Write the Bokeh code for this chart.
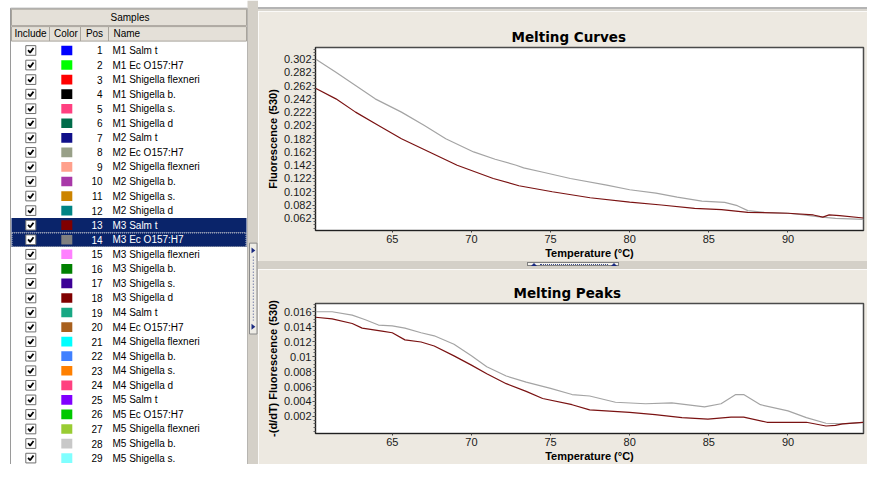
from bokeh.plotting import figure
from bokeh.layouts import row, column
from bokeh.models import Range1d, FixedTicker, ColumnDataSource, Div
from bokeh.core.properties import value
from bokeh.embed import file_html
from bokeh.resources import INLINE

# ---------------- data ----------------
sample_pos = list(range(1, 30))
sample_names = [
    "M1 Salm t", "M1 Ec O157:H7", "M1 Shigella flexneri", "M1 Shigella b.", "M1 Shigella s.", "M1 Shigella d",
    "M2 Salm t", "M2 Ec O157:H7", "M2 Shigella flexneri", "M2 Shigella b.", "M2 Shigella s.", "M2 Shigella d",
    "M3 Salm t", "M3 Ec O157:H7", "M3 Shigella flexneri", "M3 Shigella b.", "M3 Shigella s.", "M3 Shigella d",
    "M4 Salm t", "M4 Ec O157:H7", "M4 Shigella flexneri", "M4 Shigella b.", "M4 Shigella s.", "M4 Shigella d",
    "M5 Salm t", "M5 Ec O157:H7", "M5 Shigella flexneri", "M5 Shigella b.", "M5 Shigella s.",
]
sample_colors = [
    "#0000FF", "#00FF00", "#FF0000", "#000000", "#FF4080", "#006C4A",
    "#10108A", "#98A088", "#FFA08C", "#A838A8", "#CC8400", "#008484",
    "#800000", "#808080", "#FF80FF", "#008000", "#3C0096", "#800000",
    "#18A884", "#A8601E", "#00FFFF", "#4080FF", "#FF8000", "#FF4080",
    "#8000FF", "#00C800", "#99CC33", "#C8C8C8", "#80FFFF",
]
selected_pos = [13, 14]
column_headers = ["Include", "Color", "Pos", "Name"]

# Melting curves (sample 14 grey, sample 13 dark red)
curve_temp_s14 = [60.15, 61.44, 62.68, 63.92, 65.58, 67.03, 68.38, 70.14, 71.5, 72.83, 73.3, 74.6, 76.25,
                  78.55, 80.0, 81.66, 83.0, 84.56, 86.0, 86.8, 87.46, 88.5, 90.0, 91.0, 92.0, 93.0, 94.77]
curve_fluor_s14 = [0.302, 0.282, 0.262, 0.242, 0.222, 0.202, 0.182, 0.162, 0.151, 0.142, 0.138, 0.131, 0.122,
                   0.112, 0.105, 0.100, 0.094, 0.088, 0.086, 0.081, 0.0735, 0.071, 0.0696, 0.067, 0.064, 0.062, 0.0605]
curve_temp_s13 = [60.15, 61.44, 62.68, 64.13, 65.58, 67.34, 69.1, 71.38, 73.0, 75.11, 77.5, 80.0, 82.0,
                  84.1, 85.8, 87.46, 90.0, 91.6, 92.2, 92.6, 93.26, 94.77]
curve_fluor_s13 = [0.258, 0.242, 0.222, 0.202, 0.182, 0.162, 0.142, 0.122, 0.111, 0.102, 0.093, 0.0865, 0.082,
                   0.077, 0.075, 0.071, 0.0696, 0.067, 0.0638, 0.0672, 0.066, 0.0624]

# Melting peaks
peak_temp_s14 = [60.15, 61.2, 62.47, 63.3, 64.13, 65.0, 65.8, 66.82, 67.65, 68.9, 70.0, 70.97, 72.2, 73.46,
                 75.0, 76.36, 77.47, 79.1, 81.0, 82.66, 84.73, 85.77, 86.7, 87.2, 88.26, 90.0, 91.16, 92.4,
                 93.44, 94.75]
peak_val_s14 = [0.016, 0.016, 0.01555, 0.01493, 0.01422, 0.0141, 0.01381, 0.01319, 0.01278, 0.01166, 0.0101,
                0.00865, 0.00741, 0.00658, 0.00576, 0.00493, 0.00473, 0.0039, 0.0037, 0.00382, 0.00328, 0.0037,
                0.00493, 0.00493, 0.00357, 0.00274, 0.00184, 0.00109, 0.00101, 0.00122]
peak_temp_s13 = [60.15, 61.2, 62.47, 63.1, 64.35, 65.0, 65.8, 66.82, 67.65, 68.9, 70.0, 70.97, 72.2, 73.46,
                 74.5, 76.36, 77.47, 80.0, 81.6, 83.3, 84.94, 86.4, 87.2, 88.67, 90.0, 91.16, 92.4, 93.0,
                 93.44, 94.75]
peak_val_s13 = [0.01526, 0.01505, 0.01443, 0.01381, 0.0134, 0.01319, 0.01224, 0.01195, 0.01142, 0.0101, 0.00886,
                0.0077, 0.00638, 0.00535, 0.0044, 0.00357, 0.00287, 0.00254, 0.00225, 0.00184, 0.00163, 0.00192,
                0.00192, 0.00122, 0.00122, 0.00122, 0.00072, 0.0008, 0.00101, 0.00122]

temp_ticks = [65, 70, 75, 80, 85, 90]
curve_yticks = [0.062, 0.082, 0.102, 0.122, 0.142, 0.162, 0.182, 0.202, 0.222, 0.242, 0.262, 0.282, 0.302]
curve_ytick_labels = ["0.062", "0.082", "0.102", "0.122", "0.142", "0.162", "0.182", "0.202", "0.222",
                      "0.242", "0.262", "0.282", "0.302"]
peak_yticks = [0.002, 0.004, 0.006, 0.008, 0.01, 0.012, 0.014, 0.016]
peak_ytick_labels = ["0.002", "0.004", "0.006", "0.008", "0.01", "0.012", "0.014", "0.016"]

# ---------------- style ----------------
FONT = "Liberation Sans"
BEIGE = "#EDE9E1"
PANEL_GRAY = "#D4D0C8"
NAVY = "#0A246A"

# ---------------- left: samples table (drawn in screen-like units, y down) ----------------
left = figure(width=258, height=464, x_range=Range1d(0, 258), y_range=Range1d(480, 0),
              output_backend="svg", toolbar_location=None, x_axis_location=None, y_axis_location=None,
              min_border=0, outline_line_color=None, background_fill_color="white",
              border_fill_color="white")
left.grid.visible = False

left.quad(left=[10], right=[247], top=[8], bottom=[482], fill_color="white", line_color="#9A9A9A")
left.quad(left=[11], right=[246], top=[9], bottom=[26], fill_color="#E4E0D8", line_color="#A8A49C")
left.text(x=[129.5], y=[18], text=["Samples"], text_font=value(FONT), text_font_size="10px",
          text_align="center", text_baseline="middle", text_color="#000000")
hdr_left = [11, 49, 80, 108]
hdr_right = [49, 80, 108, 246]
left.quad(left=hdr_left, right=hdr_right, top=[27] * 4, bottom=[42] * 4,
          fill_color="#E4E0D8", line_color="#A8A49C")
left.text(x=[30, 65.5, 94, 113], y=[34.5] * 4, text=column_headers, text_font=value(FONT),
          text_font_size="10px", text_align=["center", "center", "center", "left"],
          text_baseline="middle", text_color="#000000")

ROW0, ROW_H = 51.7, 15.06
row_y = [ROW0 + ROW_H * i for i in range(len(sample_pos))]
is_sel = [p in selected_pos for p in sample_pos]
src = ColumnDataSource(dict(
    y=row_y, pos=[str(p) for p in sample_pos], name=sample_names, color=sample_colors,
    tcolor=["#FFFFFF" if s else "#000000" for s in is_sel],
))
sel_y = [y for y, s in zip(row_y, is_sel) if s]
left.quad(left=[11] * len(sel_y), right=[246] * len(sel_y), top=[y - ROW_H / 2 for y in sel_y],
          bottom=[y + ROW_H / 2 for y in sel_y], fill_color=NAVY, line_color=None)
left.quad(left=[11.5], right=[245.5], top=[sel_y[-1] - ROW_H / 2 + 0.5], bottom=[sel_y[-1] + ROW_H / 2 - 0.5],
          fill_color=None, line_color="#C8C8C8", line_dash="1 1", line_width=1)

left.rect(x=30.3, y="y", width=10, height=10, source=src, fill_color="white", line_color="#6E6E6E")
left.multi_line(xs=[[27.6, 29.6, 33.0] for _ in row_y], ys=[[y - 0.3, y + 2.2, y - 2.6] for y in row_y],
                line_color="#000000", line_width=1.8)
left.rect(x=66.3, y="y", width=11, height=10, source=src, fill_color="color", line_color=None)
left.text(x=102, y="y", text="pos", source=src, text_font=value(FONT), text_font_size="10px",
          text_align="right", text_baseline="middle", text_color="tcolor")
left.text(x=112, y="y", text="name", source=src, text_font=value(FONT), text_font_size="10px",
          text_align="left", text_baseline="middle", text_color="tcolor")

# vertical splitter
left.quad(left=[247], right=[258], top=[0], bottom=[480], fill_color=PANEL_GRAY, line_color=None)
left.quad(left=[249], right=[256.5], top=[251], bottom=[345], fill_color="#EEECE6", line_color="#8A8A8A")
left.patches(xs=[[251, 254.8, 251], [251, 254.8, 251]], ys=[[255.5, 258.5, 261.5], [334.5, 337.5, 340.5]],
             fill_color="#1A2A80", line_color=None)
left.segment(x0=[252.8], y0=[265], x1=[252.8], y1=[331], line_color="#3A4A8A", line_dash="1 2")

# ---------------- right column ----------------
RIGHT_W = 609

strip = Div(text="", width=RIGHT_W, height=11, margin=0,
            styles={"background": "linear-gradient(to bottom, #ffffff 0px, #ffffff 7px, #B4B4B4 7px, "
                                  "#B4B4B4 9px, #DAD7D0 9px, #DAD7D0 11px)",
                    "overflow": "hidden"})


def make_chart(title, ylab, height, borders, yr, yticks, ylabels, minor, title_offset):
    p = figure(width=RIGHT_W, height=height, x_range=Range1d(60.15, 94.77), y_range=Range1d(*yr),
               output_backend="svg", toolbar_location=None, title=title,
               min_border_left=borders[0], min_border_right=borders[1],
               min_border_top=borders[2], min_border_bottom=borders[3],
               background_fill_color="white", border_fill_color=BEIGE,
               outline_line_color="#4A4A4A", outline_line_width=1.5)
    p.grid.visible = False
    p.title.align = "left"
    p.title.offset = title_offset
    p.title.standoff = 6
    p.title.text_font = "DejaVu Sans"
    p.title.text_font_style = "bold"
    p.title.text_font_size = "13.5px"
    p.title.text_color = "#000000"

    xa = p.xaxis[0]
    xa.ticker = FixedTicker(ticks=temp_ticks, minor_ticks=[])
    xa.major_tick_out = 2
    xa.major_tick_in = 0
    xa.minor_tick_out = 0
    xa.major_label_standoff = 2
    xa.major_label_text_font = FONT
    xa.major_label_text_font_size = "11px"
    xa.major_label_text_color = "#1A1A1A"
    xa.axis_line_color = "#202020"
    xa.major_tick_line_color = "#404040"
    xa.axis_label = "Temperature (°C)"
    xa.axis_label_standoff = 1
    xa.axis_label_text_font = FONT
    xa.axis_label_text_font_style = "bold"
    xa.axis_label_text_font_size = "11px"
    xa.axis_label_text_color = "#000000"

    ya = p.yaxis[0]
    ya.ticker = FixedTicker(ticks=yticks, minor_ticks=minor)
    ya.major_label_overrides = dict(zip(yticks, ylabels))
    ya.major_tick_out = 3
    ya.major_tick_in = 0
    ya.minor_tick_out = 2
    ya.minor_tick_in = 0
    ya.major_label_standoff = 1
    ya.major_label_text_font = FONT
    ya.major_label_text_font_size = "11px"
    ya.major_label_text_color = "#1A1A1A"
    ya.axis_line_color = "#202020"
    ya.major_tick_line_color = "#404040"
    ya.minor_tick_line_color = "#606060"
    ya.axis_label = ylab
    ya.axis_label_standoff = 2
    ya.axis_label_text_font = FONT
    ya.axis_label_text_font_style = "bold"
    ya.axis_label_text_font_size = "11px"
    ya.axis_label_text_color = "#000000"
    return p


top_minor = [round(0.042 + 0.005 * k, 4) for k in range(56)]
top = make_chart("Melting Curves", "Fluorescence (530)", 250, (56, 4, 36, 30),
                 (0.0436, 0.3194), curve_yticks, curve_ytick_labels, top_minor, 196)
top.line(curve_temp_s14, curve_fluor_s14, line_color="#A4A4A4", line_width=1.2)
top.line(curve_temp_s13, curve_fluor_s13, line_color="#7A1212", line_width=1.2)

# horizontal splitter between charts (plain HTML shapes)
split_html = (
    '<div style="position:absolute;left:269px;top:1px;width:92px;height:4px;'
    'border:1px solid #7F7F7F;background:#F4F2EE;"></div>'
    '<div style="position:absolute;left:273px;top:2px;width:0;height:0;border-left:3px solid transparent;'
    'border-right:3px solid transparent;border-bottom:3px solid #1A2A80;"></div>'
    '<div style="position:absolute;left:353px;top:2px;width:0;height:0;border-left:3px solid transparent;'
    'border-right:3px solid transparent;border-bottom:3px solid #1A2A80;"></div>'
    '<div style="position:absolute;left:282px;top:3px;width:68px;height:0;'
    'border-top:1px dotted #3A4A8A;"></div>'
)
split = Div(text=split_html, width=RIGHT_W, height=8, margin=0,
            styles={"background-color": PANEL_GRAY, "overflow": "hidden", "position": "relative"})

bot_minor = [round(0.0005 * k, 5) for k in range(36)]
bot = make_chart("Melting Peaks", "-(d/dT) Fluorescence (530)", 195, (57, 4, 34, 31),
                 (-0.00028, 0.0171), peak_yticks, peak_ytick_labels, bot_minor, 198)
bot.line(peak_temp_s14, peak_val_s14, line_color="#A4A4A4", line_width=1.2)
bot.line(peak_temp_s13, peak_val_s13, line_color="#7A1212", line_width=1.2)

layout = row(left, column(strip, top, split, bot, spacing=0), spacing=0)
open("out.html", "w").write(file_html(layout, INLINE))
